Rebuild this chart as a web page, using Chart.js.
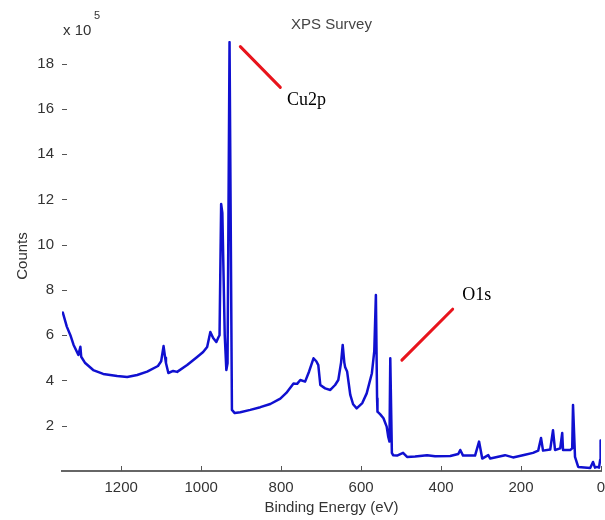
<!DOCTYPE html>
<html>
<head>
<meta charset="utf-8">
<script src="https://cdn.jsdelivr.net/npm/chart.js@4.4.1/dist/chart.umd.min.js"></script>
<style>
    body { margin: 0; background: #fff; }
    #wrap { width: 605px; height: 520px; }
</style>
</head>
<body>
<div id="wrap"><canvas id="survey-chart" width="605" height="520"></canvas></div>
<script>
// binding energy (eV), left to right
var energy = [
    1346, 1336, 1327, 1319, 1307, 1302, 1300, 1290, 1270, 1245,
    1210, 1185, 1160, 1135, 1108, 1100, 1094, 1090, 1088, 1082,
    1070, 1060, 1035, 1010, 995, 985, 977, 970, 962, 957,
    954, 950, 947, 941, 937, 934, 929, 923, 916, 902,
    877, 852, 827, 802, 787, 769, 760, 752, 740, 730,
    719, 712, 707, 702, 690, 677, 665, 657, 650, 646,
    642, 640, 635, 627, 620, 611, 597, 586, 573, 567,
    563, 560, 559, 552, 544, 536, 532, 529, 527, 523,
    520, 510, 495, 485, 465, 435, 415, 377, 357, 352,
    345, 315, 305, 297, 282, 277, 240, 220, 190, 170,
    157, 150, 145, 127, 120, 115, 102, 97, 95, 77,
    72, 70, 65, 57, 27, 20, 15, 10, 5, 2,
    1, 0
];
// counts, x 10^5
var counts = [
    7.0, 6.38, 6.0, 5.57, 5.13, 5.49, 5.05, 4.77, 4.46, 4.29,
    4.2, 4.15, 4.24, 4.39, 4.64, 4.85, 5.52, 5.0, 4.77, 4.33,
    4.42, 4.38, 4.68, 5.04, 5.26, 5.48, 6.14, 5.88, 5.7, 5.9,
    6.0, 11.8, 11.4, 6.0, 4.46, 4.76, 18.95, 2.7, 2.56, 2.6,
    2.7, 2.82, 2.96, 3.2, 3.45, 3.87, 3.85, 4.02, 3.95, 4.4,
    4.98, 4.85, 4.68, 3.8, 3.65, 3.58, 3.8, 4.02, 4.8, 5.57,
    4.8, 4.6, 4.4, 3.36, 2.95, 2.77, 3.0, 3.43, 4.32, 5.3,
    7.78, 3.2, 2.62, 2.5, 2.33, 1.96, 1.5, 1.3, 4.98, 0.8,
    0.7, 0.68, 0.8, 0.62, 0.64, 0.7, 0.65, 0.66, 0.75, 0.93,
    0.68, 0.68, 1.3, 0.55, 0.7, 0.55, 0.7, 0.6, 0.72, 0.8,
    0.9, 1.46, 0.9, 0.95, 1.8, 0.93, 1.0, 1.68, 0.93, 0.93,
    1.0, 2.92, 0.62, 0.18, 0.13, 0.4, 0.15, 0.18, 0.15, 0.5,
    1.35, 1.2
];
var energyTicks = [1200, 1000, 800, 600, 400, 200, 0];
var countTicks = [2, 4, 6, 8, 10, 12, 14, 16, 18];

var survey_chart;
var sansFont = "'Liberation Sans', Arial, sans-serif";
var serifFont = "'Liberation Serif', 'Times New Roman', serif";

// red pointer lines with peak names, in data coordinates
var peakNotes = [
    { text: 'Cu2p', from: [902, 18.75], to: [802, 16.95], at: [785, 16.4] },
    { text: 'O1s', from: [498, 4.9], to: [371, 7.15], at: [347, 7.75] }
];

var decorations = {
    id: 'decorations',
    afterDraw: function(chart) {
        var ctx = chart.ctx;
        var area = chart.chartArea;
        var xs = chart.scales.x;
        var ys = chart.scales.y;
        ctx.save();

        // inward tick marks
        ctx.strokeStyle = '#555';
        ctx.lineWidth = 1;
        ctx.beginPath();
        countTicks.forEach(function(v) {
            var y = Math.round(ys.getPixelForValue(v)) + 0.5;
            ctx.moveTo(area.left, y);
            ctx.lineTo(area.left + 5, y);
        });
        energyTicks.forEach(function(v) {
            var x = Math.round(xs.getPixelForValue(v)) + 0.5;
            ctx.moveTo(x, area.bottom);
            ctx.lineTo(x, area.bottom - 5);
        });
        ctx.stroke();

        // title and exponent
        ctx.fillStyle = '#444';
        ctx.font = '15px ' + sansFont;
        ctx.textAlign = 'center';
        ctx.textBaseline = 'middle';
        ctx.fillText('XPS Survey', (area.left + area.right) / 2, 25);
        ctx.fillStyle = '#333';
        ctx.textAlign = 'left';
        ctx.fillText('x 10', area.left + 1, 31);
        ctx.font = '11px ' + sansFont;
        ctx.fillText('5', area.left + 32, 16);

        // peak labels
        ctx.lineCap = 'round';
        peakNotes.forEach(function(n) {
            ctx.strokeStyle = '#e8141c';
            ctx.lineWidth = 3;
            ctx.beginPath();
            ctx.moveTo(xs.getPixelForValue(n.from[0]), ys.getPixelForValue(n.from[1]));
            ctx.lineTo(xs.getPixelForValue(n.to[0]), ys.getPixelForValue(n.to[1]));
            ctx.stroke();
            ctx.fillStyle = '#000';
            ctx.font = '18px ' + serifFont;
            ctx.textAlign = 'left';
            ctx.textBaseline = 'middle';
            ctx.fillText(n.text, xs.getPixelForValue(n.at[0]), ys.getPixelForValue(n.at[1]));
        });
        ctx.restore();
    }
};

window.onload = function() {
    draw_survey_chart();
}

function draw_survey_chart() {
    var points = energy.map(function(e, i) { return { x: e, y: counts[i] }; });
    var ctx = document.getElementById('survey-chart').getContext('2d');
    if (survey_chart) {
        survey_chart.destroy();
    }
    survey_chart = new Chart(ctx, {
        type: 'line',
        data: {
            datasets: [
                {
                    label: 'Counts',
                    data: points,
                    borderColor: '#1010d0',
                    borderWidth: 2.5,
                    borderJoinStyle: 'round',
                    borderCapStyle: 'round',
                    pointRadius: 0,
                    tension: 0,
                    fill: false
                }
            ]
        },
        options: {
            responsive: false,
            animation: false,
            devicePixelRatio: 1,
            layout: { padding: { top: 41, right: 4, left: 0, bottom: 0 } },
            plugins: {
                legend: { display: false },
                tooltip: { enabled: false }
            },
            scales: {
                x: {
                    type: 'linear',
                    reverse: true,
                    min: 0,
                    max: 1348,
                    afterBuildTicks: function(scale) {
                        scale.ticks = energyTicks.map(function(v) { return { value: v }; });
                    },
                    afterFit: function(scale) {
                        scale.height = 49;
                        scale.paddingLeft = 0;
                        scale.paddingRight = 0;
                    },
                    grid: { display: false, drawTicks: false },
                    border: { display: true, color: '#666', width: 2 },
                    ticks: {
                        padding: 8,
                        color: '#333',
                        font: { family: sansFont, size: 15 },
                        maxRotation: 0,
                        callback: function(value) { return String(value); }
                    },
                    title: {
                        display: true,
                        text: 'Binding Energy (eV)',
                        color: '#333',
                        font: { family: sansFont, size: 15 },
                        padding: { top: 0, bottom: 3 }
                    }
                },
                y: {
                    min: 0,
                    max: 19,
                    afterBuildTicks: function(scale) {
                        scale.ticks = countTicks.map(function(v) { return { value: v }; });
                    },
                    afterFit: function(scale) {
                        scale.width = 62;
                        scale.paddingTop = 0;
                        scale.paddingBottom = 0;
                    },
                    grid: { display: false, drawTicks: false },
                    border: { display: false },
                    ticks: {
                        padding: 8,
                        color: '#333',
                        font: { family: sansFont, size: 15 }
                    },
                    title: {
                        display: true,
                        text: 'Counts',
                        color: '#333',
                        font: { family: sansFont, size: 15 },
                        padding: { top: 14, bottom: 0 }
                    }
                }
            }
        },
        plugins: [decorations]
    });
}
</script>
</body>
</html>
